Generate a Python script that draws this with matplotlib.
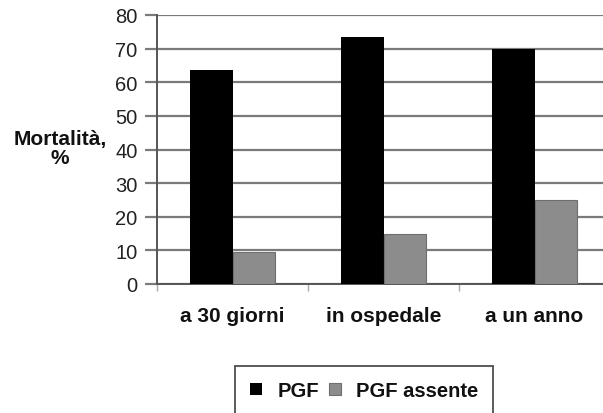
import numpy as np
import matplotlib.pyplot as plt

categories = ['a 30 giorni', 'in ospedale', 'a un anno']
pgf = [63.5, 73.5, 70.0]
pgf_assente = [9.5, 14.8, 25.0]
yticks = [0, 10, 20, 30, 40, 50, 60, 70, 80]

plt.rcParams['font.family'] = ['Liberation Sans', 'DejaVu Sans']
txt = '#111111'

fig = plt.figure(figsize=(6.03, 4.14), dpi=100)
ax = fig.add_axes([157 / 603, 129 / 414, 453 / 603, 269 / 414])

x = np.arange(len(categories))
w = 0.28
ax.bar(x - w / 2, pgf, w, color='black', label='PGF', zorder=3)
ax.bar(x + w / 2, pgf_assente, w, color='#8c8c8c', edgecolor='#6e6e6e',
       linewidth=0.8, label='PGF assente', zorder=3)

ax.set_xlim(-0.5, 2.5)
ax.set_ylim(0, 80)
ax.set_yticks(yticks)
ax.yaxis.grid(True, color='#7a7a7a', linewidth=1.6, zorder=0)

# category ticks sit on the group boundaries, labels in the middle
ax.set_xticks([-0.5, 0.5, 1.5, 2.5])
ax.set_xticklabels([])
ax.set_xticks(x, minor=True)
ax.set_xticklabels(categories, minor=True, fontsize=15, fontweight='bold',
                   color=txt)
ax.tick_params(axis='x', which='minor', length=0, pad=16)
ax.tick_params(axis='x', which='major', length=5, color='#aaaaaa', width=1)
ax.tick_params(axis='y', length=9, width=1.6, color='#7a7a7a',
               labelsize=14.5, labelcolor='#222222', pad=5)

for s in ['top', 'right']:
    ax.spines[s].set_visible(False)
ax.spines['left'].set_color('#555555')
ax.spines['left'].set_linewidth(1.4)
ax.spines['bottom'].set_color('#555555')
ax.spines['bottom'].set_linewidth(1.4)

fig.text(60 / 603, 1 - 149 / 414, 'Mortalità,\n%', ha='center', va='center',
         fontsize=15, fontweight='bold', color=txt, linespacing=0.95)

leg = fig.legend(loc='upper left', bbox_to_anchor=(235 / 603, 1 - 367 / 414),
                 ncol=2, frameon=True, fancybox=False, handlelength=0.6,
                 handleheight=0.6, handletextpad=0.75, columnspacing=0.5,
                 borderpad=0.75, borderaxespad=0,
                 prop={'weight': 'bold', 'size': 14.5})
leg.get_frame().set_edgecolor('#222222')
leg.get_frame().set_linewidth(1.3)
for t in leg.get_texts():
    t.set_color(txt)

fig.savefig('out.png', dpi=100)
